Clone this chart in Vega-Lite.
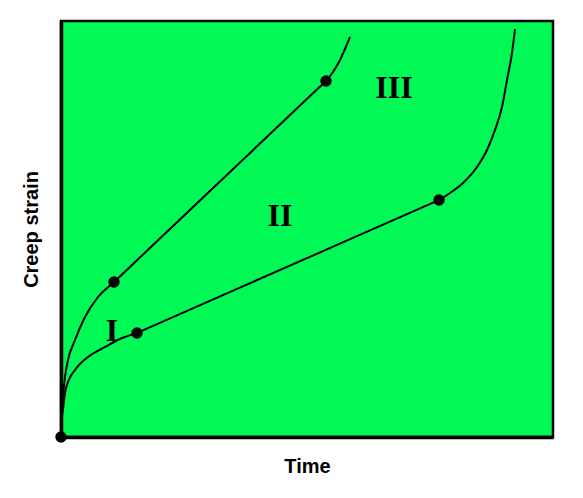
{
  "$schema": "https://vega.github.io/schema/vega-lite/v6.json",
  "width": 492,
  "height": 416,
  "autosize": {"type": "none"},
  "padding": {"left": 61, "top": 21, "right": 30, "bottom": 61},
  "background": "white",
  "config": {
    "view": {"fill": "#00F955", "stroke": "black", "strokeWidth": 2.5},
    "axis": {"grid": false, "labels": false, "ticks": false, "domainColor": "black", "domainWidth": 3.5,
      "titleFont": "Liberation Sans", "titleFontSize": 20, "titleFontWeight": "bold", "titleColor": "black"}
  },
  "datasets": {
    "curves": [
      {"curve": "upper", "t": 0, "strain": 0},
      {"curve": "upper", "t": 0.7, "strain": 24},
      {"curve": "upper", "t": 2.3, "strain": 44},
      {"curve": "upper", "t": 4, "strain": 60},
      {"curve": "upper", "t": 7, "strain": 77},
      {"curve": "upper", "t": 14, "strain": 97},
      {"curve": "upper", "t": 24, "strain": 120},
      {"curve": "upper", "t": 37, "strain": 140},
      {"curve": "upper", "t": 53, "strain": 155},
      {"curve": "upper", "t": 60, "strain": 161.6},
      {"curve": "upper", "t": 150, "strain": 247},
      {"curve": "upper", "t": 258, "strain": 349.4},
      {"curve": "upper", "t": 265, "strain": 356},
      {"curve": "upper", "t": 272, "strain": 365},
      {"curve": "upper", "t": 279, "strain": 377},
      {"curve": "upper", "t": 284, "strain": 388},
      {"curve": "upper", "t": 289, "strain": 400},
      {"curve": "lower", "t": 0, "strain": 0},
      {"curve": "lower", "t": 0.6, "strain": 15},
      {"curve": "lower", "t": 2.3, "strain": 30},
      {"curve": "lower", "t": 4, "strain": 44},
      {"curve": "lower", "t": 7, "strain": 55},
      {"curve": "lower", "t": 14, "strain": 67},
      {"curve": "lower", "t": 27, "strain": 80},
      {"curve": "lower", "t": 44, "strain": 90},
      {"curve": "lower", "t": 61, "strain": 99},
      {"curve": "lower", "t": 76, "strain": 104},
      {"curve": "lower", "t": 83, "strain": 107.1},
      {"curve": "lower", "t": 230, "strain": 171.8},
      {"curve": "lower", "t": 371, "strain": 233.9},
      {"curve": "lower", "t": 378, "strain": 237},
      {"curve": "lower", "t": 389, "strain": 244},
      {"curve": "lower", "t": 402, "strain": 254},
      {"curve": "lower", "t": 416, "strain": 270},
      {"curve": "lower", "t": 426, "strain": 287},
      {"curve": "lower", "t": 434, "strain": 307},
      {"curve": "lower", "t": 441, "strain": 330},
      {"curve": "lower", "t": 446, "strain": 357},
      {"curve": "lower", "t": 451, "strain": 384},
      {"curve": "lower", "t": 454, "strain": 408}
    ],
    "points": [
      {"t": 0, "strain": 0},
      {"t": 53, "strain": 155},
      {"t": 265, "strain": 356},
      {"t": 76, "strain": 104},
      {"t": 378, "strain": 237}
    ],
    "labels": [
      {"t": 51, "strain": 106, "label": "I"},
      {"t": 219, "strain": 221, "label": "II"},
      {"t": 333, "strain": 349, "label": "III"}
    ]
  },
  "encoding": {
    "x": {"field": "t", "type": "quantitative", "scale": {"domain": [0, 492], "nice": false},
      "axis": {"title": "Time", "titlePadding": 19}},
    "y": {"field": "strain", "type": "quantitative", "scale": {"domain": [0, 416], "nice": false},
      "axis": {"title": "Creep strain", "titlePadding": 20}}
  },
  "layer": [
    {
      "data": {"name": "curves"},
      "mark": {"type": "line", "color": "black", "strokeWidth": 2, "interpolate": "monotone"},
      "encoding": {"detail": {"field": "curve"}}
    },
    {
      "data": {"name": "points"},
      "mark": {"type": "point", "filled": true, "color": "black", "opacity": 1, "size": 130}
    },
    {
      "data": {"name": "labels"},
      "mark": {"type": "text", "font": "Liberation Serif", "fontWeight": "bold", "fontSize": 32, "color": "black", "align": "center", "baseline": "middle"},
      "encoding": {"text": {"field": "label"}}
    }
  ]
}
